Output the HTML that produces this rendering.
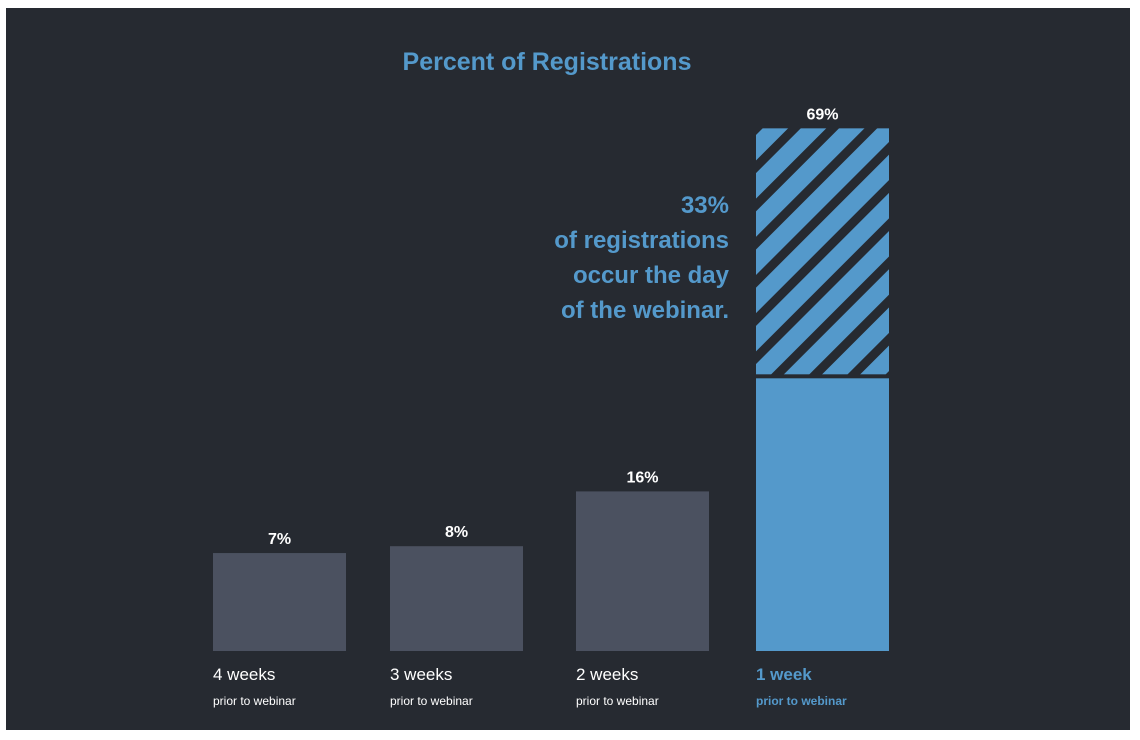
<!DOCTYPE html>
<html><head><meta charset="utf-8">
<style>
html,body{margin:0;padding:0;background:#fff;}
svg{display:block;font-family:"Liberation Sans",sans-serif;}
</style></head>
<body>
<svg id="chart" width="1140" height="740" viewBox="0 0 1140 740">
  <defs>
    <pattern id="stripes" patternUnits="userSpaceOnUse" width="27" height="27" patternTransform="rotate(45)">
      <rect width="27" height="27" fill="#5499cb"/>
      <rect x="0" y="0" width="9" height="27" fill="#262a31"/>
    </pattern>
  </defs>
  <rect x="6" y="8" width="1124" height="722" fill="#262a31"/>
  <text x="547" y="70" text-anchor="middle" font-size="25" font-weight="bold" fill="#5499cb">Percent of Registrations</text>
  <g font-size="24" font-weight="bold" fill="#5499cb" text-anchor="end">
    <text x="729" y="213">33%</text>
    <text x="729" y="248">of registrations</text>
    <text x="729" y="283">occur the day</text>
    <text x="729" y="318">of the webinar.</text>
  </g>
  <g id="bars"></g>
</svg>
<script>
const categories = ["4 weeks", "3 weeks", "2 weeks", "1 week"];
const subLabels = ["prior to webinar", "prior to webinar", "prior to webinar", "prior to webinar"];
const values = [7, 8, 16, 69];
const dayOfValues = [0, 0, 0, 33];
const highlight = [false, false, false, true];

const baseY = 651;
const barW = 133;
const barX = [213, 390, 576, 756];
function yScale(v){ return 50 + v * 6.85; }   // bar height for value
const ns = "http://www.w3.org/2000/svg";
const g = document.getElementById("bars");
function mk(tag, attrs){ const e = document.createElementNS(ns, tag); for (const k in attrs) e.setAttribute(k, attrs[k]); return e; }

categories.forEach((c, i) => {
  const h = yScale(values[i]);
  const top = baseY - h;
  const x = barX[i];
  const col = highlight[i] ? "#5499cb" : "#4b5160";
  if (dayOfValues[i] > 0) {
    const sh = h * dayOfValues[i] / values[i];
    const s = mk("rect", {x: x, y: top, width: barW, height: sh - 4, fill: "url(#stripes)"});
    
    
    g.appendChild(s);
    const r = mk("rect", {x: x, y: top + sh, width: barW, height: h - sh, fill: col});
    
    
    g.appendChild(r);
  } else {
    const r = mk("rect", {x: x, y: top, width: barW, height: h, fill: col});
    
    
    g.appendChild(r);
  }
  const vt = mk("text", {x: x + barW/2, y: top - 9, "text-anchor": "middle", "font-size": 16, "font-weight": "bold", fill: "#ffffff"});
  vt.textContent = values[i] + "%";
  
  
  g.appendChild(vt);
  const lc = highlight[i] ? "#5499cb" : "#ffffff";
  const ct = mk("text", {x: x, y: 680, "font-size": 17, "font-weight": highlight[i] ? "bold" : "normal", fill: lc});
  ct.textContent = c;
  
  
  g.appendChild(ct);
  const st = mk("text", {x: x, y: 705, "font-size": 12, "font-weight": highlight[i] ? "bold" : "normal", fill: lc});
  st.textContent = subLabels[i];
  
  
  g.appendChild(st);
});
</script>
</body></html>
